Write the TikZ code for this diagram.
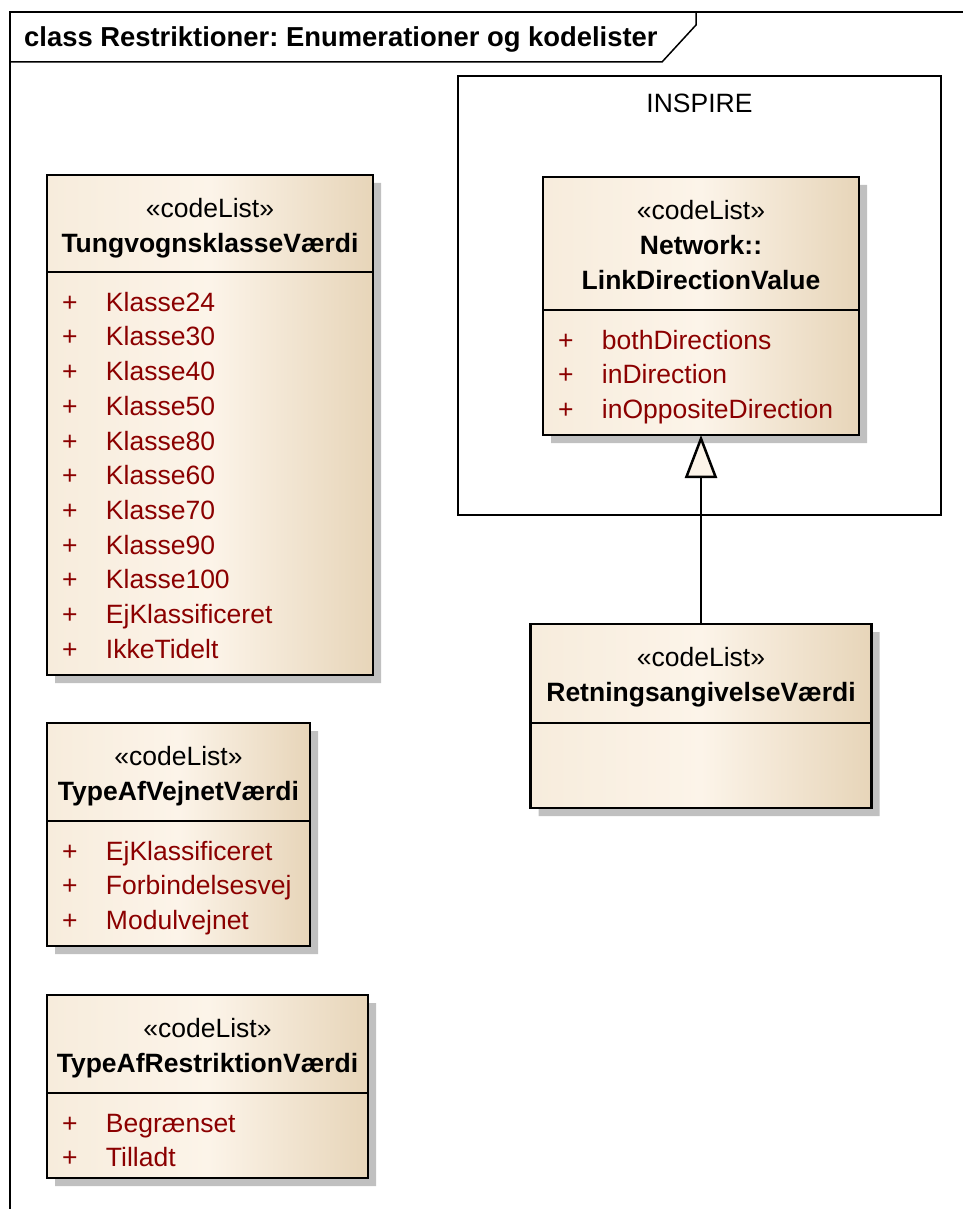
\documentclass[tikz,border=0pt]{standalone}
\usepackage{fontspec}
\setmainfont{Liberation Sans}
\usetikzlibrary{shapes, positioning, shadows, arrows.meta}

\definecolor{classleft}{RGB}{247,236,220}
\definecolor{classmid}{RGB}{252,244,233}
\definecolor{classright}{RGB}{231,213,185}
\definecolor{attrred}{RGB}{139,0,0}
\definecolor{shadowgray}{RGB}{192,192,192}

\frenchspacing

% header and attribute compartments of a class box
\newcommand{\classhead}[3]{\parbox[c][\dimexpr#2pt-2.5pt\relax][t]{#1pt}{\centering\rule{0pt}{41.5pt}#3}}
\newcommand{\classattrs}[3]{\parbox[c][\dimexpr#2pt-2.5pt\relax][t]{#1pt}{\baselineskip=34.7pt\rule{0pt}{38pt}\color{attrred}#3}}
\newcommand{\attrrow}[1]{\makebox[59pt][l]{\hspace{15pt}+}#1\par}

\begin{document}
\begin{tikzpicture}[x=1pt, y=-1pt, font=\fontsize{26.5}{35}\selectfont]
		\tikzstyle{codelist}=[rectangle split, rectangle split parts=2, draw, line width=2.5pt,
			inner sep=0pt, outer sep=0pt, left color=classleft, right color=classright, middle color=classmid,
			drop shadow={shadow xshift=8pt, shadow yshift=-8pt, fill=shadowgray, opacity=1}]
		\tikzstyle{package}=[rectangle, draw, line width=2pt, anchor=north west]

		\useasboundingbox (0,0) rectangle (963,1209);

		% diagram frame with its name tab
		\draw[line width=1.5pt] (10,1209) -- (10,12) -- (963,12);
		\draw[line width=1.5pt] (10,62) -- (662,62) -- (696,25) -- (696,12);
		\node[anchor=base west, inner sep=0pt, font=\fontsize{27.4}{34}\selectfont\bfseries] (title) at (24,47)
		{class Restriktioner: Enumerationer og kodelister};

		\node[package, minimum width=483pt, minimum height=439pt,
			label={[anchor=center, yshift=-28pt]north:INSPIRE}] (inspire) at (457,75) {};

		\node[codelist, anchor=north west] (tung) at (47,175) {
			\nodepart{one} \classhead{326}{97}{«codeList»\\\textbf{TungvognsklasseVærdi}}
			\nodepart{two} \classattrs{326}{403}{\attrrow{Klasse24}\attrrow{Klasse30}\attrrow{Klasse40}%
				\attrrow{Klasse50}\attrrow{Klasse80}\attrrow{Klasse60}\attrrow{Klasse70}\attrrow{Klasse90}%
				\attrrow{Klasse100}\attrrow{EjKlassificeret}\attrrow{IkkeTidelt}}
		};

		\node[codelist, below=48pt of tung.south west, anchor=north west] (vejnet) {
			\nodepart{one} \classhead{263}{98}{«codeList»\\\textbf{TypeAfVejnetVærdi}}
			\nodepart{two} \classattrs{263}{125}{\attrrow{EjKlassificeret}\attrrow{Forbindelsesvej}\attrrow{Modulvejnet}}
		};

		\node[codelist, below=49pt of vejnet.south west, anchor=north west] (restriktion) {
			\nodepart{one} \classhead{321}{98}{«codeList»\\\textbf{TypeAfRestriktionVærdi}}
			\nodepart{two} \classattrs{321}{85}{\attrrow{Begrænset}\attrrow{Tilladt}}
		};

		\node[codelist, anchor=north west] (linkdir) at (543,177) {
			\nodepart{one} \classhead{316}{133}{«codeList»\\\textbf{Network::}\\\textbf{LinkDirectionValue}}
			\nodepart{two} \classattrs{316}{125}{\attrrow{bothDirections}\attrrow{inDirection}\attrrow{inOppositeDirection}}
		};

		\node[codelist, below=189pt of linkdir] (retning) {
			\nodepart{one} \classhead{341}{99}{«codeList»\\\textbf{RetningsangivelseVærdi}}
			\nodepart{two} \classattrs{341}{85}{}
		};

		\draw[line width=2.5pt, -{Triangle[length=43pt, width=32pt, fill=classmid]}] (retning) -- (linkdir);

	\end{tikzpicture}
\end{document}
